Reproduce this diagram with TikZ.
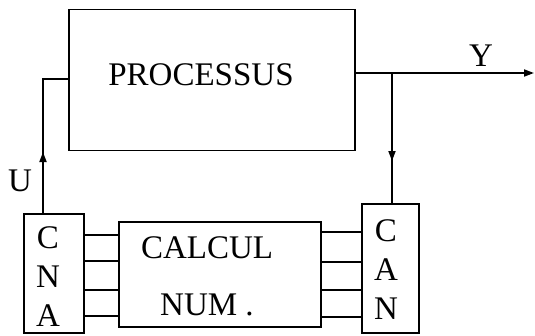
\documentclass[tikz,border=0pt]{standalone}
\usepackage{fontspec}
\setmainfont{Liberation Serif}
\usetikzlibrary{arrows.meta}
\tikzset{
  blockbox/.style ={draw,line width=1.8pt,inner sep=0pt},
  blocktext/.style={font=\fontsize{33}{39}\selectfont,align=center,inner sep=0pt},
  sig/.style      ={line width=1.8pt},
  sigarrow/.style ={line width=1.8pt,-{Triangle[length=10pt,width=7pt]}},
}
\begin{document}
\begin{tikzpicture}[x=1pt,y=-1pt]
\useasboundingbox (0,0) rectangle (535,335);
% Blocks
\node[blockbox,minimum width=286pt,minimum height=141pt] (proc) at (212,80)    {};
\node[blockbox,minimum width=60pt, minimum height=119pt] (cna)  at (54,273.5)  {};
\node[blockbox,minimum width=202pt,minimum height=105pt] (calc) at (220,274.5) {};
\node[blockbox,minimum width=57pt, minimum height=129pt] (can)  at (390.5,268.5) {};
% Block texts
\node[blocktext] (proctxt) at (201,75)  {PROCESSUS};
\node[blocktext] (calctxt) at (207,276) {CALCUL\\[18pt]NUM .};
\node[blocktext] (cnatxt)  at (48,277)  {C\\N\\A};
\node[blocktext] (cantxt)  at (386,270) {C\\A\\N};
% Signal labels
\node[blocktext] (ulab) at (20,181) {U};
\node[blocktext] (ylab) at (481,56) {Y};
% Command U
\coordinate (uin) at (43,79);
\draw[sig] (cna.north -| uin) -- (uin) -- (uin -| proc.west);
\draw[sigarrow] (cna.north -| uin) -- (43,152);
% Output Y and measurement branch
\coordinate (yout) at (534,73);
\coordinate (br) at (392,73);
\draw[sigarrow] (proc.east |- yout) -- (yout);
\draw[sig] (br) -- (br |- can.north);
\draw[sigarrow] (br) -- (392,161);
% Buses
\foreach \y in {235,261,290,316} \draw[sig] (cna.east |- 0,\y) -- (calc.west |- 0,\y);
\foreach \y in {232,262,290,317} \draw[sig] (calc.east |- 0,\y) -- (can.west |- 0,\y);
\end{tikzpicture}
\end{document}
